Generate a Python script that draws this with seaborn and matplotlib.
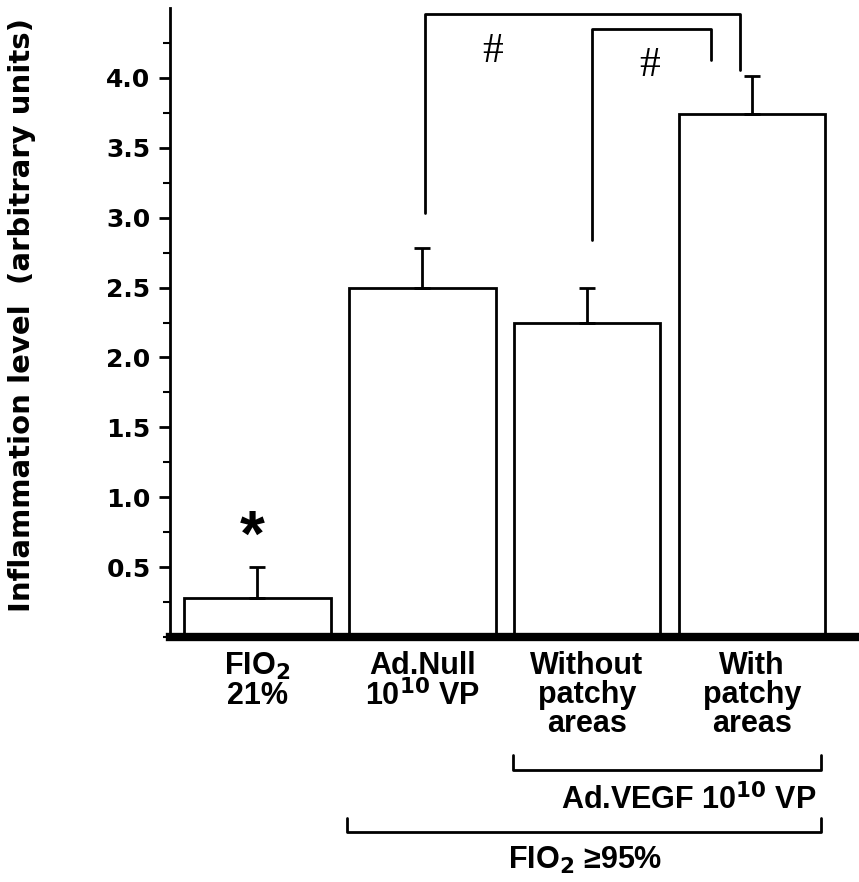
import matplotlib
matplotlib.use("Agg")
import matplotlib.pyplot as plt
import matplotlib.transforms as mtransforms
from matplotlib.ticker import FixedLocator
import seaborn as sns
import pandas as pd
import numpy as np

# ---- data ----
groups = ["FIO$_2$\n21%", "Ad.Null\n10$^{10}$ VP", "Without\npatchy\nareas", "With\npatchy\nareas"]
values = [0.28, 2.50, 2.25, 3.74]
errors = [0.22, 0.28, 0.25, 0.27]
ytick_vals = [0.5, 1.0, 1.5, 2.0, 2.5, 3.0, 3.5, 4.0]
ytick_labels = ["0.5", "1.0", "1.5", "2.0", "2.5", "3.0", "3.5", "4.0"]
ylabel = "Inflammation level  (arbitrary units)"
vegf_label = "Ad.VEGF 10$^{10}$ VP"
fio_label = "FIO$_2$ \u226595%"

sns.set_theme(style="ticks")
plt.rcParams['font.family'] = ['Liberation Sans', 'DejaVu Sans']
plt.rcParams['text.color'] = 'black'
plt.rcParams['axes.labelcolor'] = 'black'
plt.rcParams['xtick.color'] = 'black'
plt.rcParams['ytick.color'] = 'black'
plt.rcParams['mathtext.fontset'] = 'custom'
plt.rcParams['mathtext.rm'] = 'Liberation Sans Narrow:bold'
plt.rcParams['mathtext.it'] = 'Liberation Sans Narrow:bold'
plt.rcParams['mathtext.bf'] = 'Liberation Sans Narrow:bold'

narrow = ['Liberation Sans Narrow', 'Liberation Sans', 'DejaVu Sans']

fig = plt.figure(figsize=(8.59, 8.82), dpi=100)
ax = fig.add_axes([170/859, 1-637/882, 689/859, 629/882])

df = pd.DataFrame({"group": groups, "value": values})
sns.barplot(data=df, x="group", y="value", order=groups, color="white",
            saturation=1, edgecolor="black", linewidth=2, width=0.89,
            errorbar=None, ax=ax)
x = np.arange(len(values))
ax.errorbar(x, values, yerr=[np.zeros(len(errors)), errors], fmt='none',
            ecolor='black', elinewidth=2, capsize=6, capthick=2, zorder=3)

ax.set_xlim(-0.53, 3.65)
ax.set_ylim(0, 4.5)
ax.set_xlabel("")
ax.set_ylabel(ylabel, fontsize=21, fontweight='bold', family=['DejaVu Sans'], color='black')
ax.yaxis.set_label_coords(-0.195, 0.512)

ax.set_yticks(ytick_vals)
ax.set_yticklabels(ytick_labels, fontsize=18, fontweight='bold', family=['DejaVu Sans'], color='black')
ax.yaxis.set_minor_locator(FixedLocator(np.arange(0, 4.5, 0.25)))
ax.tick_params(axis='y', which='major', length=8, width=2, direction='out', pad=6, colors='black')
ax.tick_params(axis='y', which='minor', length=5, width=1.5, direction='out', colors='black')

ax.set_xticks(x)
ax.set_xticklabels(groups, fontsize=22, fontweight='bold', family=narrow, linespacing=0.95,
                   color='black')
ax.tick_params(axis='x', length=0, pad=10)

for s in ['top', 'right']:
    ax.spines[s].set_visible(False)
ax.spines['left'].set_linewidth(2)
ax.spines['bottom'].set_linewidth(6)
ax.spines['left'].set_color('black')
ax.spines['bottom'].set_color('black')

# significance brackets
ax.plot([1.02, 1.02, 2.93, 2.93], [3.03, 4.46, 4.46, 4.06], color='black', lw=2, clip_on=False)
ax.plot([2.03, 2.03, 2.75, 2.75], [2.84, 4.35, 4.35, 4.13], color='black', lw=2, clip_on=False)
ax.text(1.43, 4.19, "#", fontsize=30, family=['Liberation Serif'], ha='center', va='center')
ax.text(2.38, 4.09, "#", fontsize=30, family=['Liberation Serif'], ha='center', va='center')
ax.text(-0.03, 0.70, "*", fontsize=46, fontweight='bold', ha='center', va='center')

# group brackets below axis
tr = mtransforms.blended_transform_factory(ax.transData, fig.transFigure)
ax.plot([1.55, 1.55, 3.42, 3.42], [0.144, 0.127, 0.127, 0.144], color='black', lw=2,
        transform=tr, clip_on=False)
ax.plot([0.545, 0.545, 3.42, 3.42], [0.0726, 0.057, 0.057, 0.0726], color='black', lw=2,
        transform=tr, clip_on=False)
ax.text(2.62, 0.093, vegf_label, fontsize=22, fontweight='bold', family=narrow,
        ha='center', va='center', transform=tr)
ax.text(1.99, 0.025, fio_label, fontsize=22, fontweight='bold', family=narrow,
        ha='center', va='center', transform=tr)

fig.savefig("out.png", dpi=100, facecolor='white')
